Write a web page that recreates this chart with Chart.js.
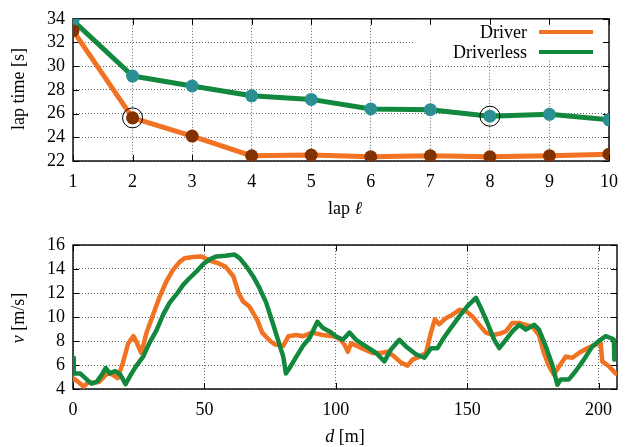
<!DOCTYPE html>
<html><head><meta charset="utf-8">
<script src="https://cdn.jsdelivr.net/npm/chart.js@4"></script>
<style>
body{margin:0;background:#fff;width:628px;height:447px;overflow:hidden;position:relative}
canvas{position:absolute;left:0}
</style></head><body>
<canvas id="c1" width="628" height="225" style="top:0;width:628px;height:225px"></canvas>
<canvas id="c2" width="628" height="222" style="top:225px;width:628px;height:222px"></canvas>
<script>
// ---------- data: lap times ----------
const laps = [1,2,3,4,5,6,7,8,9,10];
const driverLapTime = [33.0, 25.64, 24.1, 22.44, 22.5, 22.36, 22.44, 22.36, 22.44, 22.58];
const driverlessLapTime = [33.85, 29.17, 28.33, 27.5, 27.2, 26.39, 26.33, 25.78, 25.94, 25.47];
const circledDriverLap = 2;
const circledDriverlessLap = 8;
const lapTicks = [1,2,3,4,5,6,7,8,9,10];
const lapTimeTicks = [22,24,26,28,30,32,34];

// ---------- data: velocity profile ----------
const driverDist = [0,2,4,6,7.7,10,13,15,17,19,21,23,24,26,28,30.5,33,35.6,38,40.6,42.5,45.7,48.9,52,55,58,61,63,64.7,67,70,72,75,77,80,82,85,87.5,91,95,99,101.4,103.3,104.6,105.8,108.4,110.9,114,117.2,119.8,122.3,124.8,127.3,129.2,131.8,134.3,136.2,137.7,139.4,141.9,144.4,147,149.5,152,154.6,157.1,159.6,162.2,164.7,167.2,169.8,172.3,174.8,177.3,179.2,181.1,183,185,187.5,190,192.5,195.7,198.9,200.8,201.4,203.9,206.5];
const driverVel = [4.9,4.6,4.2,4.6,4.5,4.6,5.3,5.2,4.9,6.2,7.8,8.4,8.0,7.0,8.7,10.2,11.7,13.0,13.9,14.6,14.9,15.0,15.05,14.7,14.5,14.2,13.4,12.0,11.3,10.9,9.8,8.7,8.0,7.7,7.6,8.4,8.5,8.4,8.7,8.5,8.4,8.2,7.7,7.1,7.8,7.55,7.3,7.0,7.0,7.1,6.7,6.2,5.95,6.45,6.7,7.0,8.7,9.8,9.4,9.9,10.2,10.6,10.5,10.05,9.35,8.7,8.5,8.6,8.8,9.5,9.5,9.35,9.2,8.5,7.0,5.9,5.2,5.9,6.7,6.6,7.0,7.4,7.7,7.8,6.3,5.9,5.3];
const driverlessDist = [0,0.3,2.7,5.2,7,9,11,12.4,14,16,18,20,22.3,24,26.7,29,31.8,34.3,36.8,39.4,42,44.4,47,49.5,52,54.6,58,61.5,63.4,66,68.5,71,73.5,76,78,80,81,82.4,85,87.5,90,93,95,97.6,100,102.7,105.2,107.7,111.5,115.3,118.5,121,124.2,126.7,130.5,133.7,136.2,138.7,140.6,143.8,147,150.1,153.3,155.2,157.7,160.3,162.2,164.7,167.2,169.8,172.3,175.5,177.3,179.9,182.4,184.3,185.6,188.7,191.3,194.4,197.6,200.1,202.7,204.6,205.8,206];
const driverlessVel = [6.6,5.3,5.3,4.8,4.45,4.6,5.2,5.75,5.3,5.5,5.2,4.4,5.3,5.9,6.7,7.8,8.9,10.2,11.2,11.9,12.7,13.25,13.8,14.4,14.8,15.05,15.1,15.2,14.9,14.2,13.4,12.4,11.2,9.5,8.1,6.7,5.3,5.75,6.7,7.6,8.25,9.6,9.1,8.8,8.4,8.1,8.7,8.1,7.55,7.0,6.3,7.3,8.1,7.55,6.9,6.6,7.4,7.4,8.1,9.1,10.05,10.9,11.6,10.75,9.5,8.1,7.4,8.1,8.8,9.35,8.95,9.35,8.95,7.55,6.0,4.35,4.8,4.8,5.5,6.45,7.55,8.0,8.4,8.25,8.1,6.45];
const distTicks = [0,50,100,150,200];
const velTicks = [4,6,8,10,12,14,16];

// ---------- styling ----------
const FONT = "'Liberation Serif', 'Times New Roman', serif";
const ORANGE = '#f07222';
const GREEN = '#11883d';
const BROWN = '#843102';
const TEAL = '#2b9093';

function pts(xs, ys){ return xs.map((x,i)=>({x:x, y:ys[i]})); }
function fixedTicks(list){ return function(axis){ axis.ticks = list.map(v=>({value:v})); }; }

function drawMixed(ctx, parts, cx, cy, rot){
  ctx.save();
  ctx.translate(cx, cy);
  if (rot) ctx.rotate(rot);
  ctx.fillStyle = '#000';
  ctx.textBaseline = 'middle';
  ctx.textAlign = 'left';
  let w = 0;
  parts.forEach(p=>{ ctx.font = (p.it?'italic ':'') + '18px ' + FONT; p.w = ctx.measureText(p.t).width; w += p.w; });
  let x = -w/2;
  parts.forEach(p=>{ ctx.font = (p.it?'italic ':'') + '18px ' + FONT; ctx.fillText(p.t, x, 0); x += p.w; });
  ctx.restore();
}

const framePlugin = {
  id: 'frame',
  beforeDatasetsDraw(chart, args, opts){
    const {ctx, chartArea:a, scales} = chart;
    ctx.save();
    if (opts.legend){
      const lg = opts.legend;
      ctx.fillStyle = '#fff';
      ctx.fillRect(lg.box[0], lg.box[1], lg.box[2], lg.box[3]);
    }
    ctx.strokeStyle = '#000';
    ctx.lineWidth = 1;
    const L = 6;
    ctx.beginPath();
    scales.x.ticks.forEach(t=>{
      const px = Math.round(scales.x.getPixelForValue(t.value)) + 0.5;
      ctx.moveTo(px, a.bottom); ctx.lineTo(px, a.bottom - L);
      ctx.moveTo(px, a.top); ctx.lineTo(px, a.top + L);
    });
    scales.y.ticks.forEach(t=>{
      const py = Math.round(scales.y.getPixelForValue(t.value)) + 0.5;
      ctx.moveTo(a.left, py); ctx.lineTo(a.left + L, py);
      ctx.moveTo(a.right, py); ctx.lineTo(a.right - L, py);
    });
    ctx.stroke();
    ctx.lineWidth = 1.4;
    ctx.strokeRect(a.left, a.top, a.right - a.left, a.bottom - a.top);
    if (opts.legend){
      const lg = opts.legend;
      const ds = chart.data.datasets.filter(d=>d.inLegend);
      ctx.font = '18px ' + FONT;
      ctx.textAlign = 'right';
      ctx.textBaseline = 'middle';
      ds.forEach((d,i)=>{
        const y = lg.y0 + i*lg.dy;
        ctx.fillStyle = '#000';
        ctx.fillText(d.label, lg.textRight, y + 1);
        ctx.strokeStyle = d.borderColor;
        ctx.lineWidth = 4;
        ctx.beginPath(); ctx.moveTo(lg.x1, y); ctx.lineTo(lg.x2, y); ctx.stroke();
      });
    }
    ctx.restore();
  },
  afterDraw(chart, args, opts){
    const ctx = chart.ctx;
    (opts.titles||[]).forEach(t=>drawMixed(ctx, t.parts, t.x, t.y, t.rot));
  }
};

function axisOpts(min, max, tickList, isX, afterFitFn, pad){
  return {
    type: 'linear', min: min, max: max,
    afterBuildTicks: fixedTicks(tickList),
    afterFit: afterFitFn,
    grid: { color: 'rgba(0,0,0,0.6)', lineWidth: 1, drawTicks: false },
    border: { display: false, dash: [1,2] },
    ticks: { font: { family: FONT, size: 18 }, color: '#000', padding: pad, maxRotation: 0, autoSkip: false },
    title: { display: false }
  };
}

// ---------- top chart ----------
new Chart(document.getElementById('c1'), {
  type: 'line',
  data: {
    datasets: [
      { label: 'circled', data: [
          {x: circledDriverLap, y: driverLapTime[laps.indexOf(circledDriverLap)]},
          {x: circledDriverlessLap, y: driverlessLapTime[laps.indexOf(circledDriverlessLap)]}],
        showLine: false, pointRadius: 10, pointBackgroundColor: 'rgba(0,0,0,0)',
        pointBorderColor: '#000', pointBorderWidth: 1, order: 0 },
      { label: 'Driver', inLegend: true, data: pts(laps, driverLapTime), borderColor: ORANGE, borderWidth: 5,
        pointRadius: 6.5, pointBackgroundColor: BROWN, pointBorderWidth: 0, tension: 0, order: 1,
        borderJoinStyle: 'round' },
      { label: 'Driverless', inLegend: true, data: pts(laps, driverlessLapTime), borderColor: GREEN, borderWidth: 5,
        pointRadius: 6.5, pointBackgroundColor: TEAL, pointBorderWidth: 0, tension: 0, order: 2,
        borderJoinStyle: 'round' }
    ]
  },
  options: {
    responsive: false, animation: false, devicePixelRatio: 1,
    layout: { padding: { left: 0, top: 17, right: 11, bottom: 0 } },
    scales: {
      x: axisOpts(1, 10, lapTicks, true, s=>{ s.height = 64; }, 10),
      y: axisOpts(22, 34, lapTimeTicks, false, s=>{ s.width = 73; }, 8)
    },
    plugins: {
      legend: { display: false }, tooltip: { enabled: false },
      frame: {
        legend: { box: [415, 17, 196, 42], y0: 32, dy: 20, textRight: 527, x1: 539, x2: 593 },
        titles: [
          { parts: [{t:'lap time [s]'}], x: 19, y: 89, rot: -Math.PI/2 },
          { parts: [{t:'lap '}, {t:'\u2113', it:true}], x: 345, y: 209 }
        ]
      }
    }
  },
  plugins: [framePlugin]
});

// ---------- bottom chart ----------
new Chart(document.getElementById('c2'), {
  type: 'line',
  data: {
    datasets: [
      { label: 'Driver', data: pts(driverDist, driverVel), borderColor: ORANGE, borderWidth: 4.5,
        pointRadius: 0, tension: 0, order: 1, borderJoinStyle: 'round', borderCapStyle: 'round' },
      { label: 'Driverless', data: pts(driverlessDist, driverlessVel), borderColor: GREEN, borderWidth: 4.5,
        pointRadius: 0, tension: 0, order: 0, borderJoinStyle: 'round', borderCapStyle: 'round' }
    ]
  },
  options: {
    responsive: false, animation: false, devicePixelRatio: 1,
    layout: { padding: { left: 0, top: 20, right: 11, bottom: 0 } },
    scales: {
      x: axisOpts(0, 207, distTicks, true, s=>{ s.height = 58; }, 10),
      y: axisOpts(4, 16, velTicks, false, s=>{ s.width = 73; }, 8)
    },
    plugins: {
      legend: { display: false }, tooltip: { enabled: false },
      frame: {
        titles: [
          { parts: [{t:'v', it:true}, {t:' [m/s]'}], x: 19, y: 93, rot: -Math.PI/2 },
          { parts: [{t:'d', it:true}, {t:' [m]'}], x: 345, y: 212 }
        ]
      }
    }
  },
  plugins: [framePlugin]
});
</script>
</body></html>
